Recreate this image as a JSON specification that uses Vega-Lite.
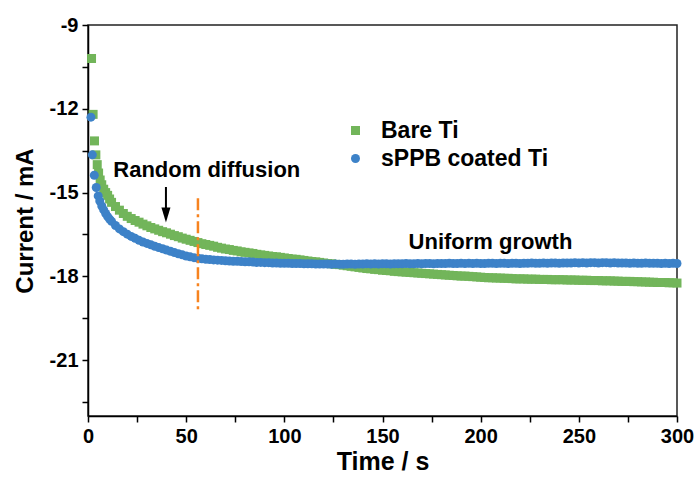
{
  "$schema": "https://vega.github.io/schema/vega-lite/v6.json",
  "width": 589,
  "height": 391,
  "autosize": {"type": "none"},
  "padding": {"left": 88, "top": 25, "right": 19, "bottom": 72},
  "background": "white",
  "config": {
    "view": {"stroke": "#222", "strokeWidth": 1.5},
    "font": "Liberation Sans",
    "axis": {
      "domainColor": "#000", "domainWidth": 1.5, "tickColor": "#000", "tickWidth": 1.5,
      "grid": false, "labelFont": "Liberation Sans", "labelFontWeight": "bold", "labelFontSize": 20,
      "labelColor": "#000", "titleFont": "Liberation Sans", "titleFontWeight": "bold", "titleFontSize": 24, "titleColor": "#000"
    }
  },
  "datasets": {
    "curves": [
      {"series": "Bare Ti", "time": 1.8, "current": -10.2},
      {"series": "Bare Ti", "time": 2.6, "current": -12.2},
      {"series": "Bare Ti", "time": 3.3, "current": -13.15},
      {"series": "Bare Ti", "time": 4.0, "current": -13.65},
      {"series": "Bare Ti", "time": 4.7, "current": -14.0},
      {"series": "Bare Ti", "time": 5.4, "current": -14.3},
      {"series": "Bare Ti", "time": 6.2, "current": -14.55},
      {"series": "Bare Ti", "time": 7, "current": -14.72},
      {"series": "Bare Ti", "time": 8, "current": -14.88},
      {"series": "Bare Ti", "time": 9, "current": -15.0},
      {"series": "Bare Ti", "time": 10, "current": -15.1},
      {"series": "Bare Ti", "time": 11, "current": -15.23},
      {"series": "Bare Ti", "time": 12, "current": -15.35},
      {"series": "Bare Ti", "time": 14, "current": -15.5},
      {"series": "Bare Ti", "time": 16, "current": -15.63},
      {"series": "Bare Ti", "time": 18, "current": -15.75},
      {"series": "Bare Ti", "time": 20, "current": -15.85},
      {"series": "Bare Ti", "time": 22, "current": -15.93},
      {"series": "Bare Ti", "time": 24, "current": -16.0},
      {"series": "Bare Ti", "time": 26, "current": -16.06},
      {"series": "Bare Ti", "time": 28, "current": -16.13},
      {"series": "Bare Ti", "time": 30, "current": -16.19},
      {"series": "Bare Ti", "time": 32, "current": -16.25},
      {"series": "Bare Ti", "time": 34, "current": -16.3},
      {"series": "Bare Ti", "time": 36, "current": -16.35},
      {"series": "Bare Ti", "time": 38, "current": -16.4},
      {"series": "Bare Ti", "time": 40, "current": -16.44},
      {"series": "Bare Ti", "time": 42, "current": -16.49},
      {"series": "Bare Ti", "time": 44, "current": -16.54},
      {"series": "Bare Ti", "time": 46, "current": -16.58},
      {"series": "Bare Ti", "time": 48, "current": -16.63},
      {"series": "Bare Ti", "time": 50, "current": -16.67},
      {"series": "Bare Ti", "time": 52, "current": -16.71},
      {"series": "Bare Ti", "time": 54, "current": -16.75},
      {"series": "Bare Ti", "time": 56, "current": -16.79},
      {"series": "Bare Ti", "time": 58, "current": -16.83},
      {"series": "Bare Ti", "time": 60, "current": -16.86},
      {"series": "Bare Ti", "time": 62, "current": -16.89},
      {"series": "Bare Ti", "time": 64, "current": -16.92},
      {"series": "Bare Ti", "time": 66, "current": -16.96},
      {"series": "Bare Ti", "time": 68, "current": -16.99},
      {"series": "Bare Ti", "time": 70, "current": -17.02},
      {"series": "Bare Ti", "time": 72, "current": -17.04},
      {"series": "Bare Ti", "time": 74, "current": -17.07},
      {"series": "Bare Ti", "time": 76, "current": -17.09},
      {"series": "Bare Ti", "time": 78, "current": -17.12},
      {"series": "Bare Ti", "time": 80, "current": -17.14},
      {"series": "Bare Ti", "time": 82, "current": -17.16},
      {"series": "Bare Ti", "time": 84, "current": -17.18},
      {"series": "Bare Ti", "time": 86, "current": -17.21},
      {"series": "Bare Ti", "time": 88, "current": -17.23},
      {"series": "Bare Ti", "time": 90, "current": -17.25},
      {"series": "Bare Ti", "time": 92, "current": -17.27},
      {"series": "Bare Ti", "time": 94, "current": -17.29},
      {"series": "Bare Ti", "time": 96, "current": -17.3},
      {"series": "Bare Ti", "time": 98, "current": -17.32},
      {"series": "Bare Ti", "time": 100, "current": -17.34},
      {"series": "Bare Ti", "time": 102, "current": -17.36},
      {"series": "Bare Ti", "time": 104, "current": -17.38},
      {"series": "Bare Ti", "time": 106, "current": -17.39},
      {"series": "Bare Ti", "time": 108, "current": -17.41},
      {"series": "Bare Ti", "time": 110, "current": -17.43},
      {"series": "Bare Ti", "time": 112, "current": -17.45},
      {"series": "Bare Ti", "time": 114, "current": -17.47},
      {"series": "Bare Ti", "time": 116, "current": -17.48},
      {"series": "Bare Ti", "time": 118, "current": -17.5},
      {"series": "Bare Ti", "time": 120, "current": -17.52},
      {"series": "Bare Ti", "time": 122, "current": -17.54},
      {"series": "Bare Ti", "time": 124, "current": -17.55},
      {"series": "Bare Ti", "time": 126, "current": -17.57},
      {"series": "Bare Ti", "time": 128, "current": -17.58},
      {"series": "Bare Ti", "time": 130, "current": -17.6},
      {"series": "Bare Ti", "time": 132, "current": -17.62},
      {"series": "Bare Ti", "time": 134, "current": -17.64},
      {"series": "Bare Ti", "time": 136, "current": -17.66},
      {"series": "Bare Ti", "time": 138, "current": -17.68},
      {"series": "Bare Ti", "time": 140, "current": -17.7},
      {"series": "Bare Ti", "time": 142, "current": -17.72},
      {"series": "Bare Ti", "time": 144, "current": -17.73},
      {"series": "Bare Ti", "time": 146, "current": -17.75},
      {"series": "Bare Ti", "time": 148, "current": -17.76},
      {"series": "Bare Ti", "time": 150, "current": -17.78},
      {"series": "Bare Ti", "time": 152, "current": -17.79},
      {"series": "Bare Ti", "time": 154, "current": -17.8},
      {"series": "Bare Ti", "time": 156, "current": -17.82},
      {"series": "Bare Ti", "time": 158, "current": -17.83},
      {"series": "Bare Ti", "time": 160, "current": -17.84},
      {"series": "Bare Ti", "time": 162, "current": -17.85},
      {"series": "Bare Ti", "time": 164, "current": -17.86},
      {"series": "Bare Ti", "time": 166, "current": -17.87},
      {"series": "Bare Ti", "time": 168, "current": -17.88},
      {"series": "Bare Ti", "time": 170, "current": -17.89},
      {"series": "Bare Ti", "time": 172, "current": -17.9},
      {"series": "Bare Ti", "time": 174, "current": -17.91},
      {"series": "Bare Ti", "time": 176, "current": -17.92},
      {"series": "Bare Ti", "time": 178, "current": -17.93},
      {"series": "Bare Ti", "time": 180, "current": -17.94},
      {"series": "Bare Ti", "time": 182, "current": -17.95},
      {"series": "Bare Ti", "time": 184, "current": -17.96},
      {"series": "Bare Ti", "time": 186, "current": -17.97},
      {"series": "Bare Ti", "time": 188, "current": -17.98},
      {"series": "Bare Ti", "time": 190, "current": -17.99},
      {"series": "Bare Ti", "time": 192, "current": -17.99},
      {"series": "Bare Ti", "time": 194, "current": -18.0},
      {"series": "Bare Ti", "time": 196, "current": -18.01},
      {"series": "Bare Ti", "time": 198, "current": -18.02},
      {"series": "Bare Ti", "time": 200, "current": -18.03},
      {"series": "Bare Ti", "time": 202, "current": -18.04},
      {"series": "Bare Ti", "time": 204, "current": -18.05},
      {"series": "Bare Ti", "time": 206, "current": -18.05},
      {"series": "Bare Ti", "time": 208, "current": -18.06},
      {"series": "Bare Ti", "time": 210, "current": -18.06},
      {"series": "Bare Ti", "time": 212, "current": -18.07},
      {"series": "Bare Ti", "time": 214, "current": -18.07},
      {"series": "Bare Ti", "time": 216, "current": -18.08},
      {"series": "Bare Ti", "time": 218, "current": -18.09},
      {"series": "Bare Ti", "time": 220, "current": -18.09},
      {"series": "Bare Ti", "time": 222, "current": -18.09},
      {"series": "Bare Ti", "time": 224, "current": -18.1},
      {"series": "Bare Ti", "time": 226, "current": -18.1},
      {"series": "Bare Ti", "time": 228, "current": -18.1},
      {"series": "Bare Ti", "time": 230, "current": -18.11},
      {"series": "Bare Ti", "time": 232, "current": -18.11},
      {"series": "Bare Ti", "time": 234, "current": -18.11},
      {"series": "Bare Ti", "time": 236, "current": -18.12},
      {"series": "Bare Ti", "time": 238, "current": -18.12},
      {"series": "Bare Ti", "time": 240, "current": -18.12},
      {"series": "Bare Ti", "time": 242, "current": -18.12},
      {"series": "Bare Ti", "time": 244, "current": -18.13},
      {"series": "Bare Ti", "time": 246, "current": -18.13},
      {"series": "Bare Ti", "time": 248, "current": -18.13},
      {"series": "Bare Ti", "time": 250, "current": -18.14},
      {"series": "Bare Ti", "time": 252, "current": -18.14},
      {"series": "Bare Ti", "time": 254, "current": -18.14},
      {"series": "Bare Ti", "time": 256, "current": -18.15},
      {"series": "Bare Ti", "time": 258, "current": -18.15},
      {"series": "Bare Ti", "time": 260, "current": -18.15},
      {"series": "Bare Ti", "time": 262, "current": -18.16},
      {"series": "Bare Ti", "time": 264, "current": -18.16},
      {"series": "Bare Ti", "time": 266, "current": -18.16},
      {"series": "Bare Ti", "time": 268, "current": -18.17},
      {"series": "Bare Ti", "time": 270, "current": -18.17},
      {"series": "Bare Ti", "time": 272, "current": -18.18},
      {"series": "Bare Ti", "time": 274, "current": -18.18},
      {"series": "Bare Ti", "time": 276, "current": -18.18},
      {"series": "Bare Ti", "time": 278, "current": -18.19},
      {"series": "Bare Ti", "time": 280, "current": -18.19},
      {"series": "Bare Ti", "time": 282, "current": -18.2},
      {"series": "Bare Ti", "time": 284, "current": -18.2},
      {"series": "Bare Ti", "time": 286, "current": -18.21},
      {"series": "Bare Ti", "time": 288, "current": -18.21},
      {"series": "Bare Ti", "time": 290, "current": -18.22},
      {"series": "Bare Ti", "time": 292, "current": -18.22},
      {"series": "Bare Ti", "time": 294, "current": -18.22},
      {"series": "Bare Ti", "time": 296, "current": -18.23},
      {"series": "Bare Ti", "time": 298, "current": -18.23},
      {"series": "Bare Ti", "time": 300, "current": -18.24},

      {"series": "sPPB coated Ti", "time": 1.5, "current": -12.3},
      {"series": "sPPB coated Ti", "time": 2.2, "current": -13.65},
      {"series": "sPPB coated Ti", "time": 3.2, "current": -14.38},
      {"series": "sPPB coated Ti", "time": 4.2, "current": -14.82},
      {"series": "sPPB coated Ti", "time": 5.2, "current": -15.12},
      {"series": "sPPB coated Ti", "time": 6, "current": -15.3},
      {"series": "sPPB coated Ti", "time": 7, "current": -15.48},
      {"series": "sPPB coated Ti", "time": 8, "current": -15.62},
      {"series": "sPPB coated Ti", "time": 9, "current": -15.75},
      {"series": "sPPB coated Ti", "time": 10, "current": -15.86},
      {"series": "sPPB coated Ti", "time": 11, "current": -15.95},
      {"series": "sPPB coated Ti", "time": 12, "current": -16.03},
      {"series": "sPPB coated Ti", "time": 14, "current": -16.18},
      {"series": "sPPB coated Ti", "time": 16, "current": -16.3},
      {"series": "sPPB coated Ti", "time": 18, "current": -16.4},
      {"series": "sPPB coated Ti", "time": 20, "current": -16.49},
      {"series": "sPPB coated Ti", "time": 22, "current": -16.57},
      {"series": "sPPB coated Ti", "time": 24, "current": -16.64},
      {"series": "sPPB coated Ti", "time": 26, "current": -16.71},
      {"series": "sPPB coated Ti", "time": 28, "current": -16.77},
      {"series": "sPPB coated Ti", "time": 30, "current": -16.82},
      {"series": "sPPB coated Ti", "time": 32, "current": -16.87},
      {"series": "sPPB coated Ti", "time": 34, "current": -16.92},
      {"series": "sPPB coated Ti", "time": 36, "current": -16.97},
      {"series": "sPPB coated Ti", "time": 38, "current": -17.01},
      {"series": "sPPB coated Ti", "time": 40, "current": -17.06},
      {"series": "sPPB coated Ti", "time": 42, "current": -17.1},
      {"series": "sPPB coated Ti", "time": 44, "current": -17.15},
      {"series": "sPPB coated Ti", "time": 46, "current": -17.19},
      {"series": "sPPB coated Ti", "time": 48, "current": -17.23},
      {"series": "sPPB coated Ti", "time": 50, "current": -17.27},
      {"series": "sPPB coated Ti", "time": 52, "current": -17.3},
      {"series": "sPPB coated Ti", "time": 54, "current": -17.33},
      {"series": "sPPB coated Ti", "time": 56, "current": -17.35},
      {"series": "sPPB coated Ti", "time": 58, "current": -17.37},
      {"series": "sPPB coated Ti", "time": 60, "current": -17.39},
      {"series": "sPPB coated Ti", "time": 62, "current": -17.4},
      {"series": "sPPB coated Ti", "time": 64, "current": -17.41},
      {"series": "sPPB coated Ti", "time": 66, "current": -17.42},
      {"series": "sPPB coated Ti", "time": 68, "current": -17.43},
      {"series": "sPPB coated Ti", "time": 70, "current": -17.44},
      {"series": "sPPB coated Ti", "time": 72, "current": -17.45},
      {"series": "sPPB coated Ti", "time": 74, "current": -17.46},
      {"series": "sPPB coated Ti", "time": 76, "current": -17.46},
      {"series": "sPPB coated Ti", "time": 78, "current": -17.47},
      {"series": "sPPB coated Ti", "time": 80, "current": -17.48},
      {"series": "sPPB coated Ti", "time": 82, "current": -17.48},
      {"series": "sPPB coated Ti", "time": 84, "current": -17.49},
      {"series": "sPPB coated Ti", "time": 86, "current": -17.5},
      {"series": "sPPB coated Ti", "time": 88, "current": -17.5},
      {"series": "sPPB coated Ti", "time": 90, "current": -17.51},
      {"series": "sPPB coated Ti", "time": 92, "current": -17.51},
      {"series": "sPPB coated Ti", "time": 94, "current": -17.52},
      {"series": "sPPB coated Ti", "time": 96, "current": -17.52},
      {"series": "sPPB coated Ti", "time": 98, "current": -17.53},
      {"series": "sPPB coated Ti", "time": 100, "current": -17.53},
      {"series": "sPPB coated Ti", "time": 102, "current": -17.53},
      {"series": "sPPB coated Ti", "time": 104, "current": -17.54},
      {"series": "sPPB coated Ti", "time": 106, "current": -17.54},
      {"series": "sPPB coated Ti", "time": 108, "current": -17.54},
      {"series": "sPPB coated Ti", "time": 110, "current": -17.55},
      {"series": "sPPB coated Ti", "time": 112, "current": -17.55},
      {"series": "sPPB coated Ti", "time": 114, "current": -17.55},
      {"series": "sPPB coated Ti", "time": 116, "current": -17.56},
      {"series": "sPPB coated Ti", "time": 118, "current": -17.56},
      {"series": "sPPB coated Ti", "time": 120, "current": -17.56},
      {"series": "sPPB coated Ti", "time": 122, "current": -17.56},
      {"series": "sPPB coated Ti", "time": 124, "current": -17.57},
      {"series": "sPPB coated Ti", "time": 126, "current": -17.56},
      {"series": "sPPB coated Ti", "time": 128, "current": -17.57},
      {"series": "sPPB coated Ti", "time": 130, "current": -17.57},
      {"series": "sPPB coated Ti", "time": 132, "current": -17.56},
      {"series": "sPPB coated Ti", "time": 134, "current": -17.56},
      {"series": "sPPB coated Ti", "time": 136, "current": -17.57},
      {"series": "sPPB coated Ti", "time": 138, "current": -17.56},
      {"series": "sPPB coated Ti", "time": 140, "current": -17.56},
      {"series": "sPPB coated Ti", "time": 142, "current": -17.55},
      {"series": "sPPB coated Ti", "time": 144, "current": -17.56},
      {"series": "sPPB coated Ti", "time": 146, "current": -17.55},
      {"series": "sPPB coated Ti", "time": 148, "current": -17.56},
      {"series": "sPPB coated Ti", "time": 150, "current": -17.55},
      {"series": "sPPB coated Ti", "time": 152, "current": -17.55},
      {"series": "sPPB coated Ti", "time": 154, "current": -17.56},
      {"series": "sPPB coated Ti", "time": 156, "current": -17.55},
      {"series": "sPPB coated Ti", "time": 158, "current": -17.55},
      {"series": "sPPB coated Ti", "time": 160, "current": -17.55},
      {"series": "sPPB coated Ti", "time": 162, "current": -17.54},
      {"series": "sPPB coated Ti", "time": 164, "current": -17.55},
      {"series": "sPPB coated Ti", "time": 166, "current": -17.55},
      {"series": "sPPB coated Ti", "time": 168, "current": -17.54},
      {"series": "sPPB coated Ti", "time": 170, "current": -17.55},
      {"series": "sPPB coated Ti", "time": 172, "current": -17.54},
      {"series": "sPPB coated Ti", "time": 174, "current": -17.54},
      {"series": "sPPB coated Ti", "time": 176, "current": -17.55},
      {"series": "sPPB coated Ti", "time": 178, "current": -17.54},
      {"series": "sPPB coated Ti", "time": 180, "current": -17.54},
      {"series": "sPPB coated Ti", "time": 182, "current": -17.54},
      {"series": "sPPB coated Ti", "time": 184, "current": -17.53},
      {"series": "sPPB coated Ti", "time": 186, "current": -17.54},
      {"series": "sPPB coated Ti", "time": 188, "current": -17.54},
      {"series": "sPPB coated Ti", "time": 190, "current": -17.53},
      {"series": "sPPB coated Ti", "time": 192, "current": -17.54},
      {"series": "sPPB coated Ti", "time": 194, "current": -17.53},
      {"series": "sPPB coated Ti", "time": 196, "current": -17.54},
      {"series": "sPPB coated Ti", "time": 198, "current": -17.53},
      {"series": "sPPB coated Ti", "time": 200, "current": -17.54},
      {"series": "sPPB coated Ti", "time": 202, "current": -17.54},
      {"series": "sPPB coated Ti", "time": 204, "current": -17.53},
      {"series": "sPPB coated Ti", "time": 206, "current": -17.53},
      {"series": "sPPB coated Ti", "time": 208, "current": -17.54},
      {"series": "sPPB coated Ti", "time": 210, "current": -17.53},
      {"series": "sPPB coated Ti", "time": 212, "current": -17.53},
      {"series": "sPPB coated Ti", "time": 214, "current": -17.54},
      {"series": "sPPB coated Ti", "time": 216, "current": -17.53},
      {"series": "sPPB coated Ti", "time": 218, "current": -17.53},
      {"series": "sPPB coated Ti", "time": 220, "current": -17.54},
      {"series": "sPPB coated Ti", "time": 222, "current": -17.53},
      {"series": "sPPB coated Ti", "time": 224, "current": -17.53},
      {"series": "sPPB coated Ti", "time": 226, "current": -17.52},
      {"series": "sPPB coated Ti", "time": 228, "current": -17.53},
      {"series": "sPPB coated Ti", "time": 230, "current": -17.53},
      {"series": "sPPB coated Ti", "time": 232, "current": -17.52},
      {"series": "sPPB coated Ti", "time": 234, "current": -17.53},
      {"series": "sPPB coated Ti", "time": 236, "current": -17.52},
      {"series": "sPPB coated Ti", "time": 238, "current": -17.52},
      {"series": "sPPB coated Ti", "time": 240, "current": -17.53},
      {"series": "sPPB coated Ti", "time": 242, "current": -17.52},
      {"series": "sPPB coated Ti", "time": 244, "current": -17.52},
      {"series": "sPPB coated Ti", "time": 246, "current": -17.52},
      {"series": "sPPB coated Ti", "time": 248, "current": -17.51},
      {"series": "sPPB coated Ti", "time": 250, "current": -17.52},
      {"series": "sPPB coated Ti", "time": 252, "current": -17.51},
      {"series": "sPPB coated Ti", "time": 254, "current": -17.52},
      {"series": "sPPB coated Ti", "time": 256, "current": -17.51},
      {"series": "sPPB coated Ti", "time": 258, "current": -17.51},
      {"series": "sPPB coated Ti", "time": 260, "current": -17.52},
      {"series": "sPPB coated Ti", "time": 262, "current": -17.51},
      {"series": "sPPB coated Ti", "time": 264, "current": -17.51},
      {"series": "sPPB coated Ti", "time": 266, "current": -17.52},
      {"series": "sPPB coated Ti", "time": 268, "current": -17.51},
      {"series": "sPPB coated Ti", "time": 270, "current": -17.52},
      {"series": "sPPB coated Ti", "time": 272, "current": -17.52},
      {"series": "sPPB coated Ti", "time": 274, "current": -17.52},
      {"series": "sPPB coated Ti", "time": 276, "current": -17.53},
      {"series": "sPPB coated Ti", "time": 278, "current": -17.52},
      {"series": "sPPB coated Ti", "time": 280, "current": -17.53},
      {"series": "sPPB coated Ti", "time": 282, "current": -17.53},
      {"series": "sPPB coated Ti", "time": 284, "current": -17.52},
      {"series": "sPPB coated Ti", "time": 286, "current": -17.53},
      {"series": "sPPB coated Ti", "time": 288, "current": -17.53},
      {"series": "sPPB coated Ti", "time": 290, "current": -17.53},
      {"series": "sPPB coated Ti", "time": 292, "current": -17.54},
      {"series": "sPPB coated Ti", "time": 294, "current": -17.53},
      {"series": "sPPB coated Ti", "time": 296, "current": -17.54},
      {"series": "sPPB coated Ti", "time": 298, "current": -17.53},
      {"series": "sPPB coated Ti", "time": 300, "current": -17.54}
    ]
  },
  "layer": [
    {
      "data": {"name": "curves"},
      "mark": {"type": "point", "filled": true, "opacity": 1, "size": 81},
      "encoding": {
        "x": {
          "field": "time", "type": "quantitative",
          "scale": {"domain": [0, 300], "nice": false, "zero": false},
          "axis": {
            "title": "Time / s", "values": [0, 25, 50, 75, 100, 125, 150, 175, 200, 225, 250, 275, 300],
            "labelExpr": "datum.value % 50 == 0 ? '' + datum.value : ''",
            "tickSize": 6, "labelPadding": 4, "titlePadding": 3, "labelFlush": false,
            "titleFontSize": 25
          }
        },
        "y": {
          "field": "current", "type": "quantitative",
          "scale": {"domain": [-23, -9], "nice": false, "zero": false},
          "axis": {
            "title": "Current / mA",
            "values": [-22.5, -21, -19.5, -18, -16.5, -15, -13.5, -12, -10.5, -9],
            "labelExpr": "datum.value % 3 == 0 ? '' + datum.value : ''",
            "tickSize": 6, "labelPadding": 4, "titlePadding": 12, "labelFlush": false
          }
        },
        "color": {
          "field": "series", "type": "nominal",
          "scale": {"domain": ["Bare Ti", "sPPB coated Ti"], "range": ["#72B55A", "#3D82C8"]},
          "legend": {
            "title": null, "orient": "none", "legendX": 256, "legendY": 94,
            "labelFont": "Liberation Sans", "labelFontSize": 23, "labelFontWeight": "bold", "labelColor": "#000",
            "labelLimit": 400, "symbolSize": 81, "labelOffset": 14, "rowPadding": 4, "padding": 0, "symbolStrokeWidth": 0
          }
        },
        "shape": {
          "field": "series", "type": "nominal",
          "scale": {"domain": ["Bare Ti", "sPPB coated Ti"], "range": ["square", "circle"]}
        }
      }
    },
    {
      "data": {"values": [{}]},
      "mark": {"type": "rule", "color": "#F7831F", "strokeWidth": 2.5, "strokeDash": [12, 4, 3, 4]},
      "encoding": {"x": {"datum": 56}, "y": {"datum": -15.2}, "y2": {"datum": -19.3}}
    },
    {
      "data": {"values": [{}]},
      "mark": {"type": "rule", "color": "#000", "strokeWidth": 2},
      "encoding": {"x": {"datum": 39.7}, "y": {"datum": -14.8}, "y2": {"datum": -15.6}}
    },
    {
      "data": {"values": [{}]},
      "mark": {"type": "point", "filled": true, "color": "#000", "opacity": 1, "size": 225, "shape": "M -0.6 -1 L 0.6 -1 L 0 1 Z"},
      "encoding": {"x": {"datum": 39.7}, "y": {"datum": -15.8}}
    },
    {
      "data": {"values": [{}]},
      "mark": {"type": "text", "font": "Liberation Sans", "fontWeight": "bold", "fontSize": 22, "color": "#000", "align": "center", "baseline": "middle"},
      "encoding": {"x": {"datum": 60.5}, "y": {"datum": -14.2}, "text": {"value": "Random diffusion"}}
    },
    {
      "data": {"values": [{}]},
      "mark": {"type": "text", "font": "Liberation Sans", "fontWeight": "bold", "fontSize": 22, "color": "#000", "align": "center", "baseline": "middle"},
      "encoding": {"x": {"datum": 205}, "y": {"datum": -16.77}, "text": {"value": "Uniform growth"}}
    }
  ]
}
